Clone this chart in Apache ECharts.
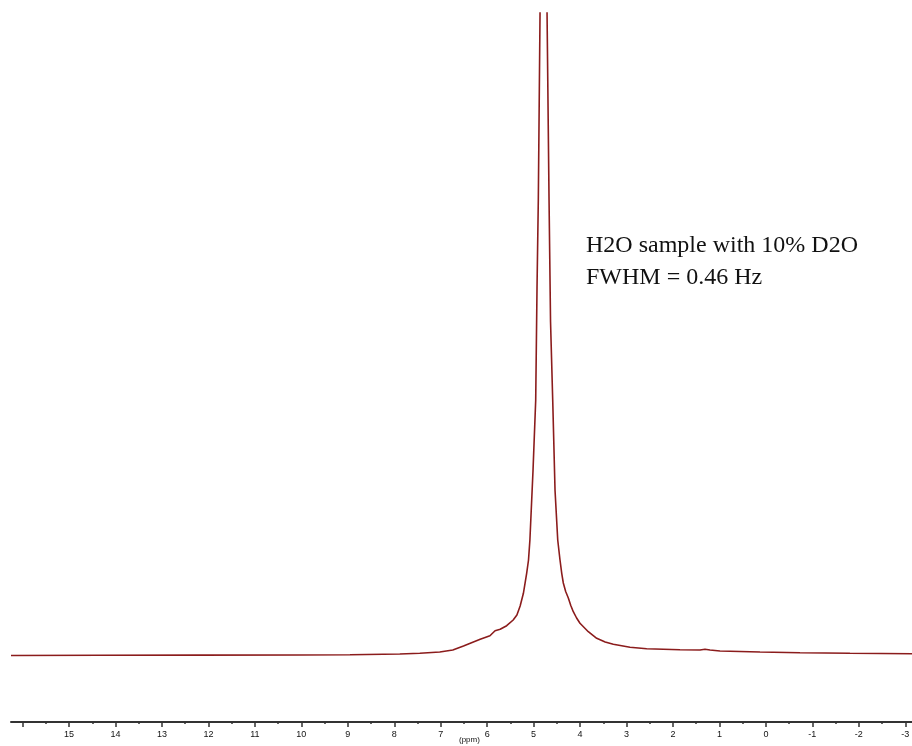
<!DOCTYPE html>
<html style="height: 100%">
<head>
  <meta charset="utf-8">
</head>
<body style="height: 100%; margin: 0; background: #fff">
  <div id="container" style="width: 912px; height: 746px"></div>
  <script type="text/javascript" src="https://cdn.jsdelivr.net/npm/echarts@6/dist/echarts.min.js"></script>
  <script type="text/javascript">
    // chemical shift (ppm) and intensity (arbitrary units, baseline ~0)
    var shift = [16.25, 14.33, 12.18, 10.03, 8.95, 7.88, 7.45, 7.02, 6.74, 6.51, 6.15, 5.94, 5.83, 5.72, 5.58, 5.44, 5.36, 5.29, 5.22, 5.15, 5.11, 5.08, 5.013, 4.955, 4.927, 4.899, 4.862, 4.787, 4.711, 4.668, 4.636, 4.589, 4.539, 4.481, 4.432, 4.395, 4.361, 4.31, 4.253, 4.2, 4.146, 4.075, 4.002, 3.823, 3.642, 3.46, 3.285, 2.925, 2.566, 1.849, 1.419, 1.311, 1.203, 0.988, 0.127, -0.734, -1.81, -3.145];
    var intensity = [0, 0.2, 0.4, 0.5, 0.8, 1.5, 2.2, 3.5, 5.5, 9.5, 16.2, 19.8, 24.8, 26.2, 29.8, 35.5, 40.5, 49.5, 62.2, 82.2, 95.5, 115.5, 185, 255.5, 367, 455.5, 642.5, 960, 642.5, 455.5, 334, 255.5, 165, 115.5, 95.5, 82.2, 72.5, 64, 57.5, 50, 43.8, 37.5, 32.2, 23.8, 17.2, 13.6, 11.2, 8.2, 6.8, 5.8, 5.5, 6.2, 5.5, 4.5, 3.5, 2.8, 2.2, 1.8];
    var majorTicks = [16, 15, 14, 13, 12, 11, 10, 9, 8, 7, 6, 5, 4, 3, 2, 1, 0, -1, -2, -3];
    var tickLabels = [15, 14, 13, 12, 11, 10, 9, 8, 7, 6, 5, 4, 3, 2, 1, 0, -1, -2, -3];
    var minorTicks = [15.5, 14.5, 13.5, 12.5, 11.5, 10.5, 9.5, 8.5, 7.5, 6.5, 5.5, 4.5, 3.5, 2.5, 1.5, 0.5, -0.5, -1.5, -2.5];
    var note = ['H2O sample with 10% D2O', 'FWHM = 0.46 Hz'];

    var dom = document.getElementById("container");
    var myChart = echarts.init(dom);

    var points = shift.map(function (s, i) {
        return [s, intensity[i]];
    });

    var axisBase = {
        type: 'value',
        inverse: true,
        min: -3.145,
        max: 16.25,
        position: 'bottom',
        splitLine: { show: false }
    };

    var option = {
        animation: false,
        grid: {
            left: 11, right: 0, top: 13, bottom: 24,
            containLabel: false,
            outerBoundsMode: 'none'
        },
        xAxis: [
            Object.assign({}, axisBase, {
                axisLine: { onZero: false, lineStyle: { color: '#333', width: 2 } },
                axisTick: {
                    length: 5,
                    lineStyle: { color: '#333', width: 1.5 },
                    customValues: majorTicks
                },
                axisLabel: {
                    customValues: tickLabels,
                    margin: 8,
                    fontFamily: 'Liberation Sans', fontSize: 9, color: '#111'
                }
            }),
            Object.assign({}, axisBase, {
                axisLine: { show: false, onZero: false },
                axisTick: {
                    length: 2,
                    lineStyle: { color: '#333', width: 1.5 },
                    customValues: minorTicks
                },
                axisLabel: { show: false }
            })
        ],
        yAxis: {
            type: 'value',
            min: -66.5,
            max: 642.5,
            show: false,
            splitLine: { show: false }
        },
        series: [{
            type: 'line',
            xAxisIndex: 0,
            data: points,
            symbol: 'none',
            smooth: false,
            clip: true,
            lineStyle: { color: '#8b1c1c', width: 1.6 }
        }],
        graphic: [{
            type: 'text',
            left: 586,
            top: 230,
            style: {
                text: note.join('\n'),
                font: '24px "Liberation Serif"',
                lineHeight: 32,
                fill: '#111'
            }
        }, {
            type: 'text',
            left: 459,
            top: 736,
            style: {
                text: '(ppm)',
                font: '8px "Liberation Sans"',
                fill: '#111'
            }
        }]
    };
    myChart.setOption(option);
  </script>
</body>
</html>
